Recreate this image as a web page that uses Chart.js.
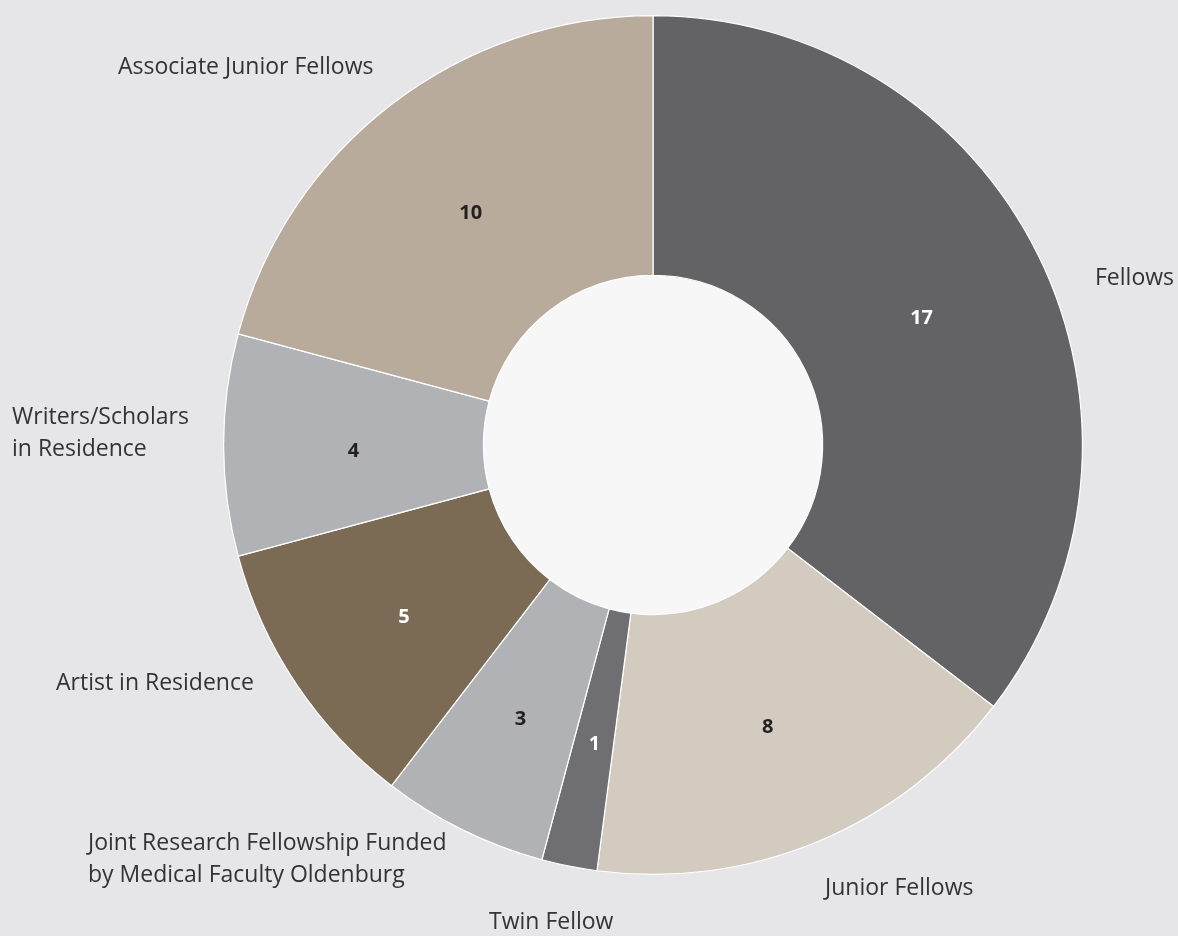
<!DOCTYPE html>
<html>
<head>
<meta charset="utf-8">
<script src="https://cdn.jsdelivr.net/npm/chart.js@4.4.1/dist/chart.umd.min.js"></script>
<style>
  html, body { margin: 0; padding: 0; background: #e6e6e8; }
  #wrap { width: 1178px; height: 936px; position: relative; }
</style>
</head>
<body>
<div id="wrap"><canvas id="fellowsChart"></canvas></div>
<script>
// Data
const categories = [
  "Fellows",
  "Junior Fellows",
  "Twin Fellow",
  "Joint Research Fellowship Funded\nby Medical Faculty Oldenburg",
  "Artist in Residence",
  "Writers/Scholars\nin Residence",
  "Associate Junior Fellows",
];
const counts = [17, 8, 1, 3, 5, 4, 10];

const sliceColors = ["#636365", "#d4cbc0", "#6e6e73", "#b1b2b6", "#7b6a54", "#b1b2b6", "#b9ab9b"];
const numberColors = ["#ffffff", "#231f20", "#ffffff", "#231f20", "#ffffff", "#231f20", "#231f20"];

// where the outside labels sit, relative to the chart centre
const labelSpots = [
  { dx: 442, dy: -167 },
  { dx: 172, dy: 443 },
  { dx: -164, dy: 477 },
  { dx: -565, dy: 398 },
  { dx: -597, dy: 238 },
  { dx: -641, dy: -28 },
  { dx: -535, dy: -378 },
];

const labelPlugin = {
  id: "labelPlugin",
  beforeDatasetsDraw(chart) {
    const arc = chart.getDatasetMeta(0).data[0];
    const ctx = chart.ctx;
    ctx.save();
    ctx.fillStyle = "#f7f7f7";
    ctx.beginPath();
    ctx.arc(arc.x, arc.y, arc.innerRadius, 0, Math.PI * 2);
    ctx.fill();
    ctx.restore();
  },
  afterDatasetsDraw(chart) {
    const ctx = chart.ctx;
    const arcs = chart.getDatasetMeta(0).data;
    ctx.save();
    arcs.forEach(function (a, i) {
      // numbers inside
      const mid = (a.startAngle + a.endAngle) / 2;
      const r = (a.innerRadius + a.outerRadius) / 2;
      ctx.font = "bold 20px 'Open Sans'";
      ctx.fillStyle = numberColors[i];
      ctx.textAlign = "center";
      ctx.textBaseline = "middle";
      ctx.fillText(String(counts[i]), a.x + r * Math.cos(mid), a.y + r * Math.sin(mid) + 6);

      // names outside
      ctx.font = "23px 'Open Sans'";
      ctx.fillStyle = "#333333";
      ctx.textAlign = "left";
      const lines = categories[i].split("\n");
      lines.forEach(function (line, j) {
        ctx.fillText(line, a.x + labelSpots[i].dx, a.y + labelSpots[i].dy + j * 32);
      });
    });
    ctx.restore();
  },
};

document.addEventListener("DOMContentLoaded", function () {
  const ctx = document.getElementById("fellowsChart").getContext("2d");
  new Chart(ctx, {
    type: "doughnut",
    data: {
      labels: categories,
      datasets: [
        {
          data: counts,
          backgroundColor: sliceColors,
          borderColor: "#ffffff",
          borderWidth: 1.2,
        },
      ],
    },
    options: {
      responsive: true,
      maintainAspectRatio: false,
      animation: false,
      cutout: "39.5%",
      layout: {
        padding: { top: 15, bottom: 61, left: 223, right: 95 },
      },
      plugins: {
        legend: { display: false },
        tooltip: { enabled: false },
      },
    },
    plugins: [labelPlugin],
  });
});
</script>
</body>
</html>
